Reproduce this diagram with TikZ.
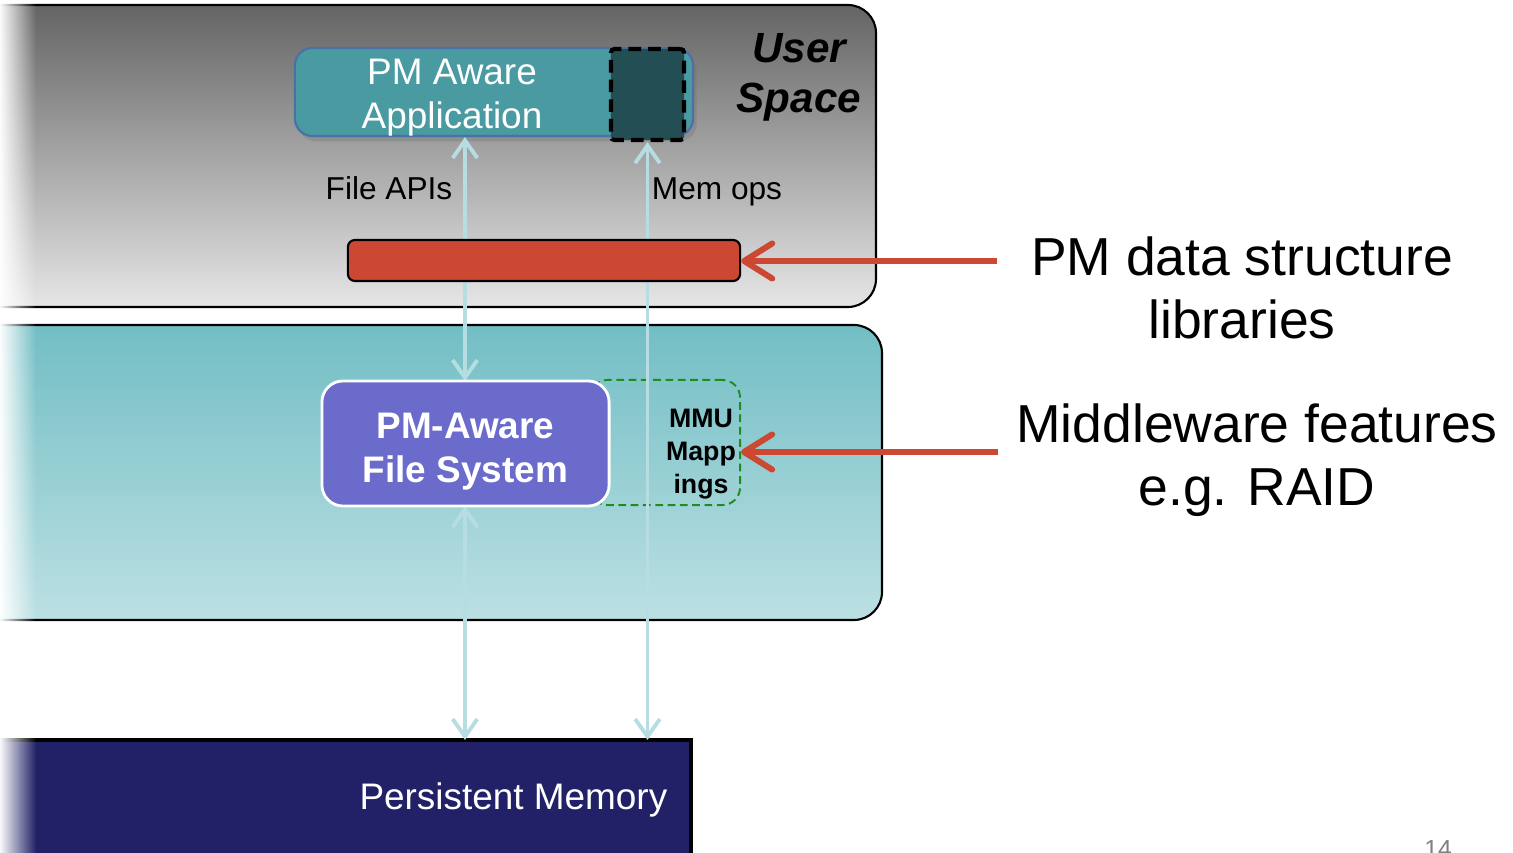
\documentclass[tikz,border=0pt]{standalone}
\usepackage{fontspec}
\setmainfont{Liberation Sans}
\usetikzlibrary{
  arrows.meta,
  positioning,
  shadows,
  fadings,
  calc
}
\definecolor{xusertop}{RGB}{100,100,100}
\definecolor{xuserbot}{RGB}{230,230,230}
\definecolor{xkerntop}{RGB}{114,190,196}
\definecolor{xkernbot}{RGB}{188,224,227}
\definecolor{xteal}{RGB}{74,154,161}
\definecolor{xtealedge}{RGB}{74,112,168}
\definecolor{xdeep}{RGB}{35,78,83}
\definecolor{xnavy}{RGB}{34,33,104}
\definecolor{xpurple}{RGB}{107,107,204}
\definecolor{xrust}{RGB}{204,72,51}
\definecolor{xice}{RGB}{181,221,226}
\definecolor{xleaf}{RGB}{30,140,30}
\tikzfading[name=fadeleft, left color=transparent!0, right color=transparent!100]

\begin{document}
\begin{tikzpicture}[x=0.01cm, y=-0.01cm,
  appbox/.style={draw=xtealedge, fill=xteal, line width=0.6pt, rounded corners=5pt,
                 minimum width=3.98cm, minimum height=0.88cm, inner sep=0pt,
                 drop shadow={shadow xshift=1pt, shadow yshift=-1.5pt, fill=black!60, opacity=0.25}},
  memsq/.style={draw=black, fill=xdeep, line width=1.2pt, dash pattern=on 3.6pt off 2pt,
                rounded corners=1pt, minimum width=0.73cm, minimum height=0.91cm, inner sep=0pt},
  apptxt/.style={text=white, align=center, inner sep=0pt, font=\fontsize{10.5}{12.5}\selectfont},
  userlbl/.style={align=center, inner sep=0pt, font=\bfseries\itshape\fontsize{12}{14.2}\selectfont},
  fsbox/.style={draw=white, fill=xpurple, line width=0.8pt, rounded corners=6pt,
                minimum width=2.87cm, minimum height=1.25cm, inner sep=0pt},
  fstxt/.style={text=white, align=center, inner sep=0pt, font=\bfseries\fontsize{10.5}{12.5}\selectfont},
  mmubox/.style={draw=xleaf, line width=0.55pt, dash pattern=on 2.2pt off 1.3pt,
                 rounded corners=5pt, minimum width=1.5cm, minimum height=1.25cm, inner sep=0pt},
  mmutxt/.style={align=center, inner sep=0pt, font=\bfseries\fontsize{7.6}{9.4}\selectfont},
  libbar/.style={draw=black, fill=xrust, line width=0.6pt, rounded corners=2pt,
                 minimum width=3.92cm, minimum height=0.41cm, inner sep=0pt},
  lbl/.style={inner sep=0pt, font=\fontsize{9}{11}\selectfont},
  big/.style={align=center, inner sep=0pt, font=\fontsize{15.2}{18}\selectfont},
  bluarr/.style={{Straight Barb[length=5pt,width=7pt]}-{Straight Barb[length=5pt,width=7pt]},
                 line width=1.1pt, color=xice},
  redarr/.style={-{Straight Barb[length=8pt,width=10pt,round]}, line width=1.7pt, color=xrust}
]
  \useasboundingbox (0,0) rectangle (1513,852);

  % layers
  \fill[top color=xusertop, bottom color=xuserbot, rounded corners=8pt] (-60,5) rectangle (876,307);
  \draw[line width=0.6pt, rounded corners=8pt] (-60,5) rectangle (876,307);
  \fill[top color=xkerntop, bottom color=xkernbot, rounded corners=8pt] (-60,325) rectangle (882,620);
  \draw[line width=0.6pt, rounded corners=8pt] (-60,325) rectangle (882,620);
  \draw[fill=xnavy, line width=1.2pt] (-60,740) rectangle (691,900);
  \fill[white, path fading=fadeleft] (-1,-1) rectangle (36,853);

  % user space
  \node[appbox] (app) at (494,92) {};
  \node[memsq] (sq) at (647.5,94.5) {};
  \node[apptxt] (apptext) at (452,98) {PM Aware\\Application};
  \node[userlbl] (user) at (799,77) {User\\Space};

  % kernel
  \node[mmubox] (mmu) at (665,442.5) {};
  \node[mmutxt] (mmutext) at (701,454) {MMU\\Mapp\\ings};
  \coordinate (pmtop) at (0,740);
  \node[anchor=east, inner sep=0pt, text=white, font=\fontsize{10.5}{12.5}\selectfont]
    (pmtext) at (668,800) {Persistent Memory};

  \draw[bluarr] (app.south -| 465,0) -- (465,381);
  \draw[bluarr] (465,506) -- (465,740);
  \draw[bluarr] (sq.south) -- (sq.south |- pmtop);

  \node[fsbox] (fs) at (465.5,443.5) {};
  \node[fstxt] (fstext) at (465.5,452) {PM-Aware\\File System};
  \node[libbar] (bar) at (544,260.5) {};

  \node[lbl] (filelbl) at (389,188) {File APIs};
  \node[lbl] (memlbl) at (717,192) {Mem ops};

  % callouts
  \node[big] (pmlib) at (1242,288) {PM data structure\\libraries};
  \node[big] (mid) at (1257,460) {Middleware features\\e.g. RAID};
  \coordinate (libtail) at (997,261);
  \coordinate (midtail) at (998,452);
  \draw[redarr] (libtail) -- (libtail -| bar.east);
  \draw[redarr] (midtail) -- (midtail -| mmu.east);

  \node[anchor=base, inner sep=0pt, text=gray, font=\fontsize{7}{8}\selectfont] (pgno) at (1438,857) {14};
\end{tikzpicture}
\end{document}
